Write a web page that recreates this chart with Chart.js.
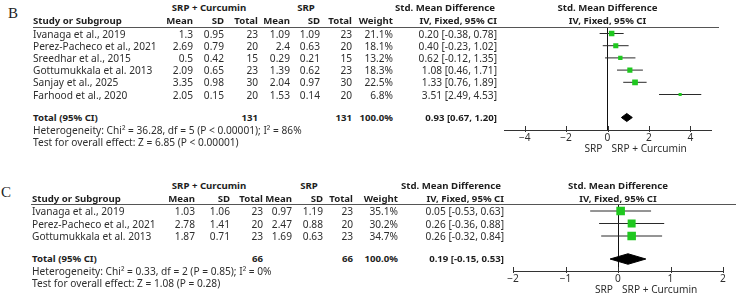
<!DOCTYPE html>
<html>
<head>
<meta charset="utf-8">
<script src="https://cdn.jsdelivr.net/npm/chart.js@4.4.1/dist/chart.umd.min.js"></script>
<style>
  body { margin: 0; width: 736px; height: 300px; background: #fff; position: relative; overflow: hidden; }
  .t { position: absolute; white-space: nowrap; line-height: 1; font-family: "Noto Sans", sans-serif; color: #2e2e2e; transform: translateY(-50%); }
  .t.b { font-weight: bold; color: #1e1e1e; }
  .t.c { transform: translate(-50%, -50%); }
  .letter { position: absolute; font-family: "Liberation Serif", serif; font-size: 15px; color: #222; line-height: 1; transform: translate(-50%, -50%); }
  .rule { position: absolute; height: 1px; background: #555; }
  .wrap { position: absolute; }
</style>
</head>
<body>
<div class="wrap" id="wrapB"><canvas id="forestB"></canvas></div>
<div class="wrap" id="wrapC"><canvas id="forestC"></canvas></div>
<script>
// Panel B data
const B_NAMES = ["Ivanaga et al., 2019", "Perez-Pacheco et al., 2021", "Sreedhar et al., 2015",
  "Gottumukkala et al. 2013", "Sanjay et al., 2025", "Farhood et al., 2020"];
const B_EXP_MEAN = [1.3, 2.69, 0.5, 2.09, 3.35, 2.05];
const B_EXP_SD = [0.95, 0.79, 0.42, 0.65, 0.98, 0.15];
const B_EXP_N = [23, 20, 15, 23, 30, 20];
const B_CTL_MEAN = [1.09, 2.4, 0.29, 1.39, 2.04, 1.53];
const B_CTL_SD = [1.09, 0.63, 0.21, 0.62, 0.97, 0.14];
const B_CTL_N = [23, 20, 15, 23, 30, 20];
const B_WEIGHT = [21.1, 18.1, 13.2, 18.3, 22.5, 6.8];
const B_SMD = [0.20, 0.40, 0.62, 1.08, 1.33, 3.51];
const B_LO = [-0.38, -0.23, -0.12, 0.46, 0.76, 2.49];
const B_HI = [0.78, 1.02, 1.35, 1.71, 1.89, 4.53];
const B_TOTAL_N = [131, 131];
const B_TOTAL = [0.93, 0.67, 1.20];
const B_HET = "Heterogeneity: Chi² = 36.28, df = 5 (P < 0.00001); I² = 86%";
const B_TEST = "Test for overall effect: Z = 6.85 (P < 0.00001)";
const B_TICKS = [-4, -2, 0, 2, 4];

// Panel C data
const C_NAMES = ["Ivanaga et al., 2019", "Perez-Pacheco et al., 2021", "Gottumukkala et al. 2013"];
const C_EXP_MEAN = [1.03, 2.78, 1.87];
const C_EXP_SD = [1.06, 1.41, 0.71];
const C_EXP_N = [23, 20, 23];
const C_CTL_MEAN = [0.97, 2.47, 1.69];
const C_CTL_SD = [1.19, 0.88, 0.63];
const C_CTL_N = [23, 20, 23];
const C_WEIGHT = [35.1, 30.2, 34.7];
const C_SMD = [0.05, 0.26, 0.26];
const C_LO = [-0.53, -0.36, -0.32];
const C_HI = [0.63, 0.88, 0.84];
const C_TOTAL_N = [66, 66];
const C_TOTAL = [0.19, -0.15, 0.53];
const C_HET = "Heterogeneity: Chi² = 0.33, df = 2 (P = 0.85); I² = 0%";
const C_TEST = "Test for overall effect: Z = 1.08 (P = 0.28)";
const C_TICKS = [-2, -1, 0, 1, 2];

const GROUPS = ["SRP + Curcumin", "SRP"];
const COL_HEADS = ["Mean", "SD", "Total", "Mean", "SD", "Total", "Weight", "IV, Fixed, 95% CI"];
const SIDE_LABELS = ["SRP", "SRP + Curcumin"];

const FAMILY = "Noto Sans";
const FONT = '"Noto Sans", sans-serif';
const GREEN = "#1fc81f";

// pick font sizes so two known strings get the widths they have in the figure
function fitSize(text, width, weight) {
  const ctx = document.createElement("canvas").getContext("2d");
  ctx.font = weight + " 20px " + FONT;
  return 20 * width / ctx.measureText(text).width;
}
const REG = fitSize(B_TEST, 206, "normal");
const BOLD = fitSize("Study or Subgroup", 89, "bold");

// page positions for each panel
const LAYOUT_B = {
  letter: "B", letterX: 13, letterY: 13,
  h1: 8, h2: 21, line: 27.5, lineL: 33, lineR: 719,
  first: 33.5, rowH: 12.2, total: 117.5, het: 129.5, test: 141.5,
  cols: [193, 224, 258, 290, 320, 352, 393, 497], study: 33,
  groupX: [209, 306], smdX: 445,
  canvas: { left: 494, top: 0, w: 242, h: 160 },
  plotL: 504, plotR: 711, axis: 130, xMin: -5, xMax: 5,
  sq: 1.2, dia: 0.33
};
const LAYOUT_C = {
  letter: "C", letterX: 6, letterY: 192,
  h1: 186, h2: 198.5, line: 204.5, lineL: 31, lineR: 736,
  first: 211, rowH: 12.5, total: 259, het: 271, test: 283,
  cols: [195, 230, 263, 292, 323, 353, 398, 504], study: 32,
  groupX: [209, 309], smdX: 451,
  canvas: { left: 500, top: 175, w: 236, h: 125 },
  plotL: 513, plotR: 723, axis: 271, xMin: -2, xMax: 2,
  sq: 1.45, dia: 0.42
};

function put(text, x, y, align, bold) {
  const el = document.createElement("div");
  el.className = "t" + (bold ? " b" : "") + (align === "center" ? " c" : "");
  el.textContent = text;
  el.style.fontSize = (bold ? BOLD : REG) + "px";
  el.style.top = y + "px";
  if (align === "right") el.style.right = (736 - x) + "px";
  else el.style.left = x + "px";
  document.body.appendChild(el);
}

const ci = (m, lo, hi) => m.toFixed(2) + " [" + lo.toFixed(2) + ", " + hi.toFixed(2) + "]";

function drawTable(L, d) {
  const letter = document.createElement("div");
  letter.className = "letter";
  letter.textContent = L.letter;
  letter.style.left = L.letterX + "px";
  letter.style.top = L.letterY + "px";
  document.body.appendChild(letter);

  const rule = document.createElement("div");
  rule.className = "rule";
  rule.style.left = L.lineL + "px";
  rule.style.width = (L.lineR - L.lineL) + "px";
  rule.style.top = Math.floor(L.line) + "px";
  document.body.appendChild(rule);

  put(GROUPS[0], L.groupX[0], L.h1, "center", true);
  put(GROUPS[1], L.groupX[1], L.h1, "center", true);
  put("Std. Mean Difference", L.smdX, L.h1, "center", true);
  const zero = L.plotL + (0 - L.xMin) / (L.xMax - L.xMin) * (L.plotR - L.plotL);
  put("Std. Mean Difference", zero, L.h1, "center", true);

  put("Study or Subgroup", L.study, L.h2, "left", true);
  COL_HEADS.forEach((h, i) => put(h, L.cols[i], L.h2, "right", true));
  put(COL_HEADS[7], zero, L.h2, "center", true);

  d.names.forEach((name, i) => {
    const y = L.first + i * L.rowH;
    put(name, L.study, y, "left");
    const cells = [d.em[i], d.es[i], d.en[i], d.cm[i], d.cs[i], d.cn[i]].map(String);
    cells.push(d.w[i].toFixed(1) + "%", ci(d.smd[i], d.lo[i], d.hi[i]));
    cells.forEach((c, j) => put(c, L.cols[j], y, "right"));
  });

  put("Total (95% CI)", L.study, L.total, "left", true);
  put(String(d.totalN[0]), L.cols[2], L.total, "right", true);
  put(String(d.totalN[1]), L.cols[5], L.total, "right", true);
  put("100.0%", L.cols[6], L.total, "right", true);
  put(ci(d.total[0], d.total[1], d.total[2]), L.cols[7], L.total, "right", true);
  put(d.het, L.study, L.het, "left");
  put(d.test, L.study, L.test, "left");
}

// short tick marks crossing the axis line, and the two side captions
const axisExtras = {
  id: "axisExtras",
  afterDraw(chart) {
    const ctx = chart.ctx, s = chart.scales.x, y = chart.chartArea.bottom;
    ctx.save();
    ctx.strokeStyle = "#333";
    ctx.lineWidth = 1;
    s.ticks.forEach(t => {
      const x = Math.round(s.getPixelForValue(t.value)) + 0.5;
      ctx.beginPath();
      ctx.moveTo(x, y - 4);
      ctx.lineTo(x, y + 2);
      ctx.stroke();
    });
    const x0 = s.getPixelForValue(0);
    ctx.fillStyle = "#2e2e2e";
    ctx.font = REG + "px " + FONT;
    ctx.textBaseline = "middle";
    ctx.textAlign = "right";
    ctx.fillText(SIDE_LABELS[0], x0 - 5, y + 19);
    ctx.textAlign = "left";
    ctx.fillText(SIDE_LABELS[1], x0 + 4, y + 19);
    ctx.restore();
  }
};

function drawForest(id, wrapId, L, d, ticks) {
  const wrap = document.getElementById(wrapId);
  wrap.style.left = L.canvas.left + "px";
  wrap.style.top = L.canvas.top + "px";
  const cv = document.getElementById(id);
  cv.width = L.canvas.w;
  cv.height = L.canvas.h;

  const totalIdx = (L.total - L.first) / L.rowH;
  const yMin = -(L.first - L.line) / L.rowH;
  const yMax = totalIdx + (L.axis - L.total) / L.rowH;

  const datasets = [];
  d.names.forEach((n, i) => {
    datasets.push({
      data: [{ x: d.lo[i], y: i }, { x: d.hi[i], y: i }],
      showLine: true, borderColor: "#2a2a2a", borderWidth: 1, pointRadius: 0, order: 2
    });
  });
  datasets.push({
    data: d.smd.map((v, i) => ({ x: v, y: i })),
    pointStyle: "rect",
    pointRadius: d.w.map(w => L.sq * Math.sqrt(w) / Math.SQRT2),
    backgroundColor: GREEN, borderColor: GREEN, borderWidth: 0, order: 1
  });
  const [m, lo, hi] = d.total;
  datasets.push({
    data: [{ x: lo, y: totalIdx }, { x: m, y: totalIdx - L.dia }, { x: hi, y: totalIdx },
           { x: m, y: totalIdx + L.dia }, { x: lo, y: totalIdx }],
    showLine: true, fill: "shape", tension: 0,
    borderColor: "#000", borderWidth: 1, backgroundColor: "#000", pointRadius: 0, order: 0
  });

  new Chart(cv.getContext("2d"), {
    type: "scatter",
    data: { datasets },
    options: {
      responsive: false,
      animation: false,
      layout: {
        padding: {
          left: L.plotL - L.canvas.left,
          right: L.canvas.left + L.canvas.w - L.plotR,
          top: L.line - L.canvas.top,
          bottom: L.canvas.top + L.canvas.h - L.axis - 22
        }
      },
      plugins: { legend: { display: false }, tooltip: { enabled: false } },
      scales: {
        x: {
          type: "linear", min: L.xMin, max: L.xMax,
          afterBuildTicks: s => { s.ticks = ticks.map(v => ({ value: v })); },
          afterFit: s => { s.height = 22; },
          grid: {
            drawTicks: false,
            color: c => (c.tick && c.tick.value === 0 ? "#111" : "rgba(0,0,0,0)"),
            lineWidth: 1
          },
          border: { display: true, color: "#333", width: 1 },
          ticks: {
            color: "#2e2e2e", padding: 2,
            font: { family: FAMILY, size: REG },
            callback: v => (v < 0 ? "\u2212" + Math.abs(v) : String(v))
          }
        },
        y: { type: "linear", reverse: true, min: yMin, max: yMax, display: false }
      }
    },
    plugins: [axisExtras]
  });
}

const dataB = { names: B_NAMES, em: B_EXP_MEAN, es: B_EXP_SD, en: B_EXP_N, cm: B_CTL_MEAN, cs: B_CTL_SD,
  cn: B_CTL_N, w: B_WEIGHT, smd: B_SMD, lo: B_LO, hi: B_HI, totalN: B_TOTAL_N, total: B_TOTAL,
  het: B_HET, test: B_TEST };
const dataC = { names: C_NAMES, em: C_EXP_MEAN, es: C_EXP_SD, en: C_EXP_N, cm: C_CTL_MEAN, cs: C_CTL_SD,
  cn: C_CTL_N, w: C_WEIGHT, smd: C_SMD, lo: C_LO, hi: C_HI, totalN: C_TOTAL_N, total: C_TOTAL,
  het: C_HET, test: C_TEST };

drawTable(LAYOUT_B, dataB);
drawTable(LAYOUT_C, dataC);
drawForest("forestB", "wrapB", LAYOUT_B, dataB, B_TICKS);
drawForest("forestC", "wrapC", LAYOUT_C, dataC, C_TICKS);
</script>
</body>
</html>
